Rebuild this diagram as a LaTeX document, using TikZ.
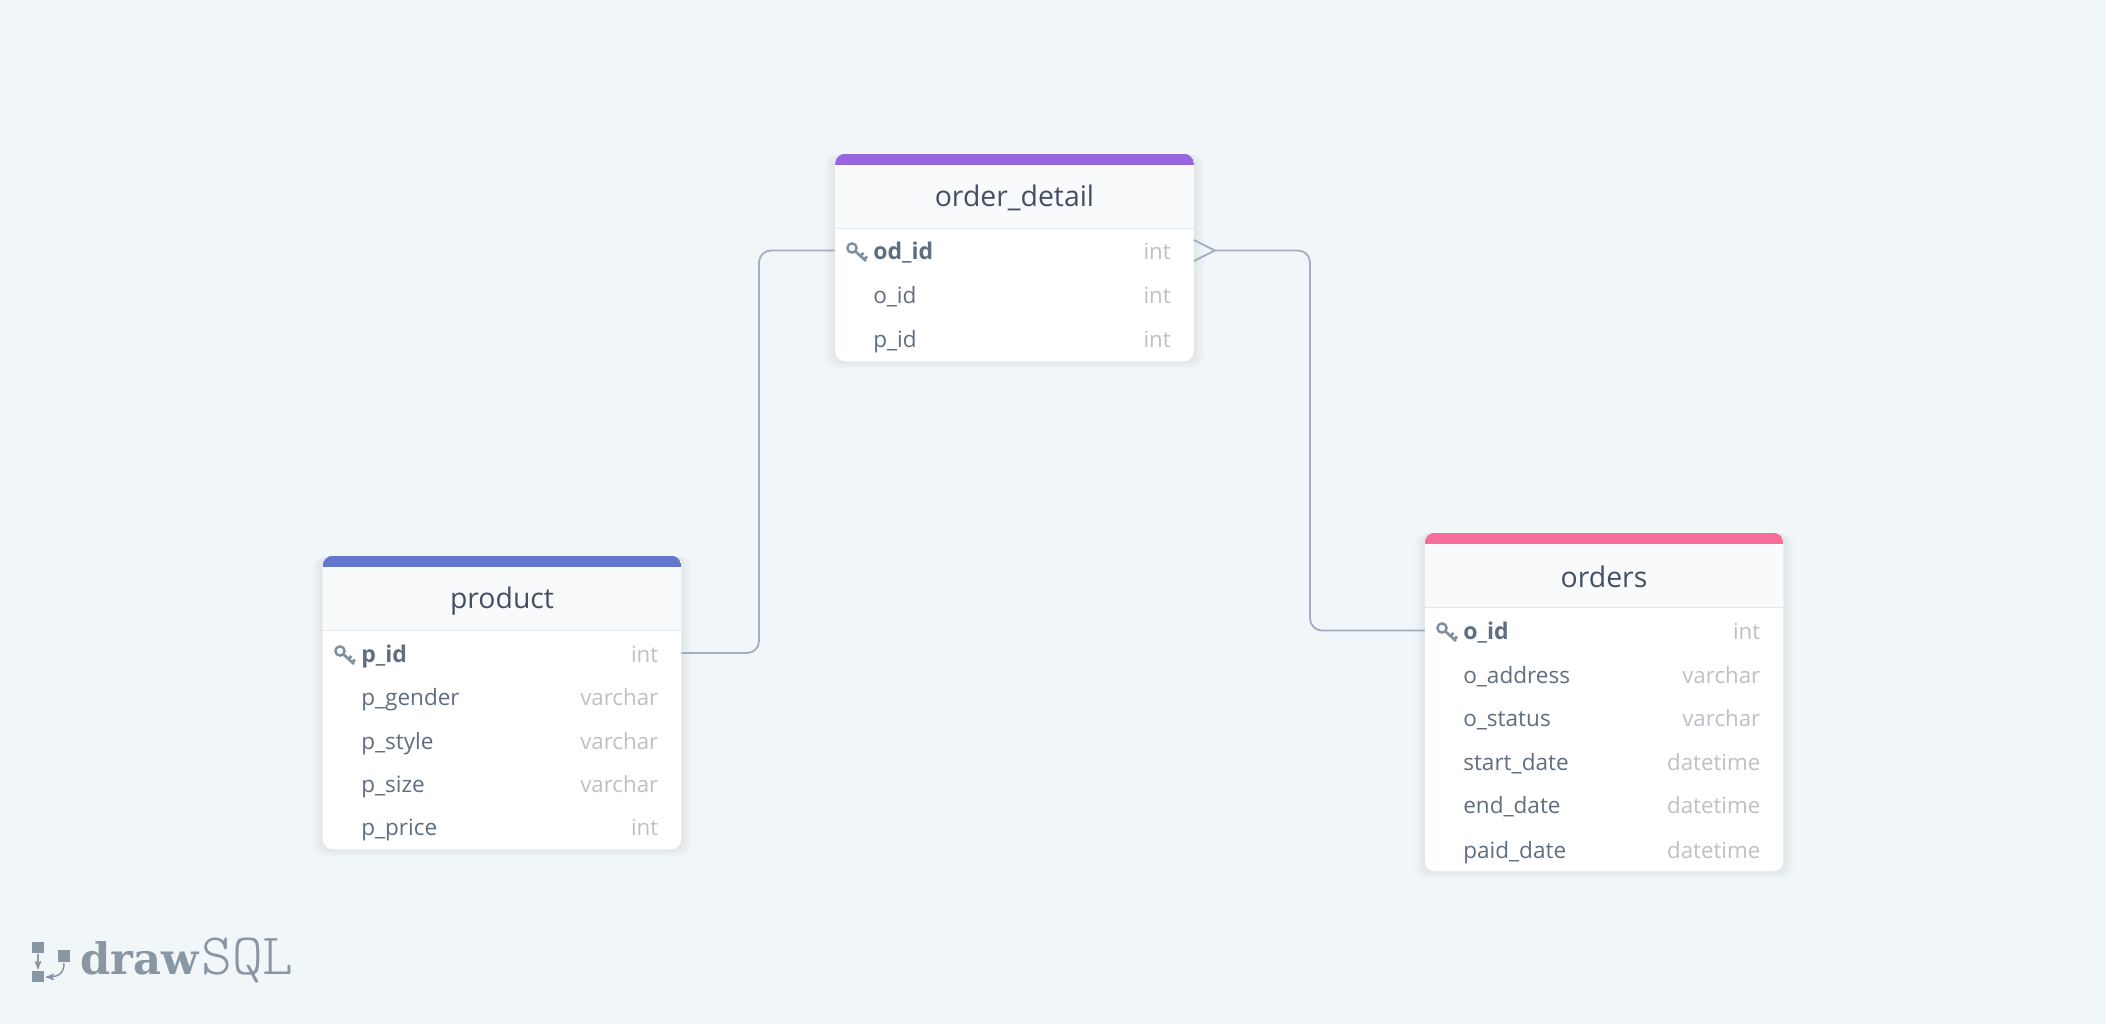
\documentclass[tikz,border=0pt]{standalone}
\usepackage{fontspec}
\setmainfont{Open Sans}
\newfontfamily\logobold{DejaVu Serif}[BoldFont={* Bold}]
\usetikzlibrary{positioning}
\usetikzlibrary{arrows}

\definecolor{bgcol}{HTML}{F1F6F9}
\definecolor{linecol}{HTML}{A0AEC0}
\definecolor{headcol}{HTML}{F8FAFC}
\definecolor{rulecol}{HTML}{E2E8F0}
\definecolor{titlecol}{HTML}{435063}
\definecolor{rowcol}{HTML}{5F6E80}
\definecolor{typecol}{HTML}{BDC1C5}
\definecolor{keycol}{HTML}{7F8FA0}
\definecolor{logocol}{HTML}{8996A3}
\definecolor{purplebar}{HTML}{9864E0}
\definecolor{bluebar}{HTML}{6576CF}
\definecolor{pinkbar}{HTML}{F76D9A}

\tikzset{
  tablebox/.style={rectangle,inner sep=0,minimum width=268.5pt},
  tabletitle/.style={inner sep=0,text=titlecol,font=\fontsize{21.3}{24}\selectfont},
  rowname/.style={anchor=west,inner sep=0,text height=18pt,text depth=4pt,text=rowcol,font=\fontsize{16.9}{20}\selectfont},
  rowkey/.style={rowname,font=\fontsize{17.3}{20}\selectfont\bfseries},
  rowtype/.style={anchor=east,inner sep=0,text height=18pt,text depth=4pt,text=typecol,font=\fontsize{16.7}{20}\selectfont},
  link/.style={draw=linecol,line width=1.35pt,rounded corners=9pt},
  keyicon/.pic={
    \draw[keycol,line width=1.8pt] (0,-2) circle (4.6);
    \draw[keycol,line width=2pt] (3.5,1.5) -- (14,11) (9,5.5) -- (11.5,3) (12.5,9) -- (15,6.5);
  }
}

% card behind a table: soft shadow, white body, grey header, coloured bar
\newcommand{\tablecard}[2]{
  \foreach \s in {1,...,8}
    \fill[black,opacity=.009,rounded corners=8pt]
      ([shift={(-\s pt,-.7*\s pt)}]#1.south west) rectangle ([shift={(\s pt,-.1*\s pt)}]#1.north east);
  \fill[white,rounded corners=7.5pt] (#1.south west) rectangle (#1.north east);
  \begin{scope}
    \clip[rounded corners=7.5pt] (#1.south west) rectangle (#1.north east);
    \fill[headcol] (#1.north west) rectangle ([yshift=-56.25pt]#1.north east);
    \draw[rulecol,line width=1pt] ([yshift=-56.25pt]#1.north west) -- ([yshift=-56.25pt]#1.north east);
    \fill[#2] (#1.north west) rectangle ([yshift=-8.25pt]#1.north east);
  \end{scope}
}

\begin{document}
\begin{tikzpicture}
[x=.75pt,y=-.75pt,>=stealth']

\fill[bgcol] (0,0) rectangle (2106,1024);
\useasboundingbox (0,0) rectangle (2106,1024);

% tables
\node[tablebox,minimum height=155.25pt] (order_detail) at (1014.5,257.5) {};
\node[tablebox,minimum height=219.75pt] (product) at (502,702.5) {};
\node[tablebox,minimum height=253.5pt] (orders) at (1604,702) {};
\tablecard{order_detail}{purplebar}
\tablecard{product}{bluebar}
\tablecard{orders}{pinkbar}

\node[tabletitle] (order_detail_title) at (1014.5,198) {order\_detail};
\node[tabletitle] (product_title) at (502,601) {product};
\node[tabletitle] (orders_title) at (1604,577) {orders};

% order_detail rows
\node[rowkey] (od_id) at (873,250.5) {od\_id};
\node[rowname] (od_o_id) at (873,294) {o\_id};
\node[rowname] (od_p_id) at (873,338) {p\_id};
\node[rowtype] (od_id_type) at (1171,250.5) {int};
\node[rowtype] (od_o_id_type) at (1171,294) {int};
\node[rowtype] (od_p_id_type) at (1171,338) {int};
\pic at (852,250) {keyicon};

% product rows
\node[rowkey] (p_id) at (361,653) {p\_id};
\node[rowname] (p_gender) at (361,696.5) {p\_gender};
\node[rowname] (p_style) at (361,740) {p\_style};
\node[rowname] (p_size) at (361,783.5) {p\_size};
\node[rowname] (p_price) at (361,826.5) {p\_price};
\node[rowtype] (p_id_type) at (658.5,653) {int};
\node[rowtype] (p_gender_type) at (658.5,696.5) {varchar};
\node[rowtype] (p_style_type) at (658.5,740) {varchar};
\node[rowtype] (p_size_type) at (658.5,783.5) {varchar};
\node[rowtype] (p_price_type) at (658.5,826.5) {int};
\pic at (340,653) {keyicon};

% orders rows
\node[rowkey] (o_id) at (1463,630.5) {o\_id};
\node[rowname] (o_address) at (1463,674) {o\_address};
\node[rowname] (o_status) at (1463,717.5) {o\_status};
\node[rowname] (start_date) at (1463,761) {start\_date};
\node[rowname] (end_date) at (1463,804) {end\_date};
\node[rowname] (paid_date) at (1463,849) {paid\_date};
\node[rowtype] (o_id_type) at (1760.5,630.5) {int};
\node[rowtype] (o_address_type) at (1760.5,674) {varchar};
\node[rowtype] (o_status_type) at (1760.5,717.5) {varchar};
\node[rowtype] (start_date_type) at (1760.5,761) {datetime};
\node[rowtype] (end_date_type) at (1760.5,804) {datetime};
\node[rowtype] (paid_date_type) at (1760.5,849) {datetime};
\pic at (1442,630) {keyicon};

% connectors
\coordinate (left_bend) at (759,450);
\coordinate (right_bend) at (1310,450);
\path (order_detail.east |- od_id) ++(21,0) coordinate (crow);
\draw[link] (product.east |- p_id) -| (left_bend) |- (order_detail.west |- od_id);
\draw[link] (crow) -| (right_bend) |- (orders.west |- o_id);
\draw[link] (crow) -- ++(-21,-10.5) (crow) -- ++(-21,10.5);

% logo
\fill[logocol] (32,942) rectangle (44,953);
\fill[logocol] (58,950) rectangle (70,962);
\fill[logocol] (32,971) rectangle (44,982);
\coordinate (logo_a) at (38,954);
\coordinate (logo_b) at (38,969);
\coordinate (logo_c) at (64,963);
\coordinate (logo_d) at (46,977);
\draw[logocol,line width=1.1pt,->] (logo_a) -- (logo_b);
\draw[logocol,line width=1.1pt,->] (logo_c) .. controls (64,972) and (60,977) .. (logo_d);
\node[inner sep=0,anchor=base west,text=logocol,font=\fontsize{32.5}{34}\selectfont\logobold\bfseries] (logo_draw) at (80,974) {draw};
\node[inner sep=0,anchor=base west,text=logocol,font=\fontsize{44}{46}\selectfont\ttfamily\fontseries{l}\selectfont] (logo_sql) at (201,974) {SQL};
\end{tikzpicture}
\end{document}
